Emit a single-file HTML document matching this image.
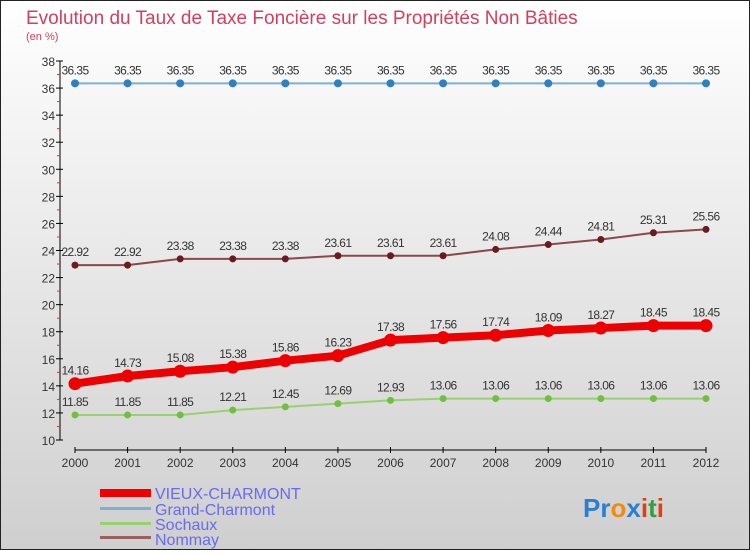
<!DOCTYPE html>
<html><head><meta charset="utf-8"><style>
html,body{margin:0;padding:0}
body{width:750px;height:550px;overflow:hidden;font-family:"Liberation Sans",sans-serif}
</style></head><body>
<svg id="c" width="750" height="550" xmlns="http://www.w3.org/2000/svg">
<defs><linearGradient id="bg" x1="0" y1="0" x2="0" y2="1"><stop offset="0" stop-color="#ffffff"/><stop offset="1" stop-color="#cfcfcf"/></linearGradient></defs>
<rect x="0.5" y="0.5" width="749" height="549" fill="url(#bg)" stroke="#222"/>
<text x="26" y="24" font-size="19" fill="#d04060">Evolution du Taux de Taxe Foncière sur les Propriétés Non Bâties</text>
<text x="26" y="40" font-size="11" fill="#d04060">(en %)</text>
<g id="axes"></g><g id="series"></g>
<g>
<rect x="100" y="489" width="51" height="8" fill="#ee0000"/>
<text x="155" y="499" font-size="16" fill="#6a6af0">VIEUX-CHARMONT</text>
<rect x="100" y="507" width="51" height="3" fill="#80b0d0"/>
<text x="155" y="515" font-size="16" fill="#6a6af0">Grand-Charmont</text>
<rect x="100" y="522" width="51" height="3" fill="#99d070"/>
<text x="155" y="530" font-size="16" fill="#6a6af0">Sochaux</text>
<rect x="100" y="536" width="51" height="3" fill="#9a6060"/>
<text x="155" y="545" font-size="16" fill="#6a6af0">Nommay</text>
</g>
<text x="583" y="517" font-size="26" font-weight="bold"><tspan fill="#2a7fd0">Pr</tspan><tspan fill="#f08a10">o</tspan><tspan fill="#2a7fd0">x</tspan><tspan fill="#e04010">i</tspan><tspan fill="#30a040">t</tspan><tspan fill="#e04010">i</tspan></text>
</svg>
<script>
const years=[2000,2001,2002,2003,2004,2005,2006,2007,2008,2009,2010,2011,2012];
const vieux=[14.16,14.73,15.08,15.38,15.86,16.23,17.38,17.56,17.74,18.09,18.27,18.45,18.45];
const grand=[36.35,36.35,36.35,36.35,36.35,36.35,36.35,36.35,36.35,36.35,36.35,36.35,36.35];
const sochaux=[11.85,11.85,11.85,12.21,12.45,12.69,12.93,13.06,13.06,13.06,13.06,13.06,13.06];
const nommay=[22.92,22.92,23.38,23.38,23.38,23.61,23.61,23.61,24.08,24.44,24.81,25.31,25.56];
const yTicks=[10,12,14,16,18,20,22,24,26,28,30,32,34,36,38];
const NS="http://www.w3.org/2000/svg";
const xs=i=>75+i*(706-75)/(years.length-1);
const ys=v=>440-(v-10)*(440-61)/28;
function mk(t,a,p){const e=document.createElementNS(NS,t);for(const k in a)e.setAttribute(k,a[k]);p.appendChild(e);return e;}
const ax=document.getElementById('axes');
const ya=mk('line',{x1:60,y1:61,x2:60,y2:440,stroke:'#000'},ax);


yTicks.forEach((v,k)=>{
 mk('line',{x1:56,y1:ys(v),x2:63,y2:ys(v),stroke:'#000'},ax);
 if(k<yTicks.length-1) mk('line',{x1:57,y1:ys(v+1),x2:60,y2:ys(v+1),stroke:'#e03030'},ax);
 const t=mk('text',{x:55,y:ys(v)+5,'font-size':12,fill:'#333','text-anchor':'end'},ax);t.textContent=v;
 
 
});
const xa=mk('line',{x1:75,y1:450,x2:706,y2:450,stroke:'#000'},ax);


years.forEach((y,i)=>{
 mk('line',{x1:xs(i),y1:447,x2:xs(i),y2:453,stroke:'#000'},ax);
 const t=mk('text',{x:xs(i),y:467,'font-size':12,fill:'#333','text-anchor':'middle'},ax);t.textContent=y;
 
 
});
const sg=document.getElementById('series');
function series(name,vals,color,dot,w,r){
 const g=mk('g',{},sg);
 
 
 const l=mk('polyline',{points:vals.map((v,i)=>xs(i)+','+ys(v)).join(' '),fill:'none',stroke:color,'stroke-width':w,'stroke-linejoin':'round'},g);
 
 
 vals.forEach((v,i)=>{
  const c=mk('circle',{cx:xs(i),cy:ys(v),r:r,fill:dot},g);
  
  
  const t=mk('text',{x:xs(i),y:ys(v)-9,'font-size':12,fill:'#333','text-anchor':'middle','letter-spacing':'-0.6'},g);t.textContent=v.toFixed(2);
  
  
 });
}
series('grand-charmont',grand,'#80b0d0','#2f80c0',2,4);
series('nommay',nommay,'#8a4848','#6a1a20',2,3.5);
series('sochaux',sochaux,'#99d070','#70c040',2,3.5);
series('vieux-charmont',vieux,'#ee0000','#ee0000',8,6.5);
</script>
</body></html>
